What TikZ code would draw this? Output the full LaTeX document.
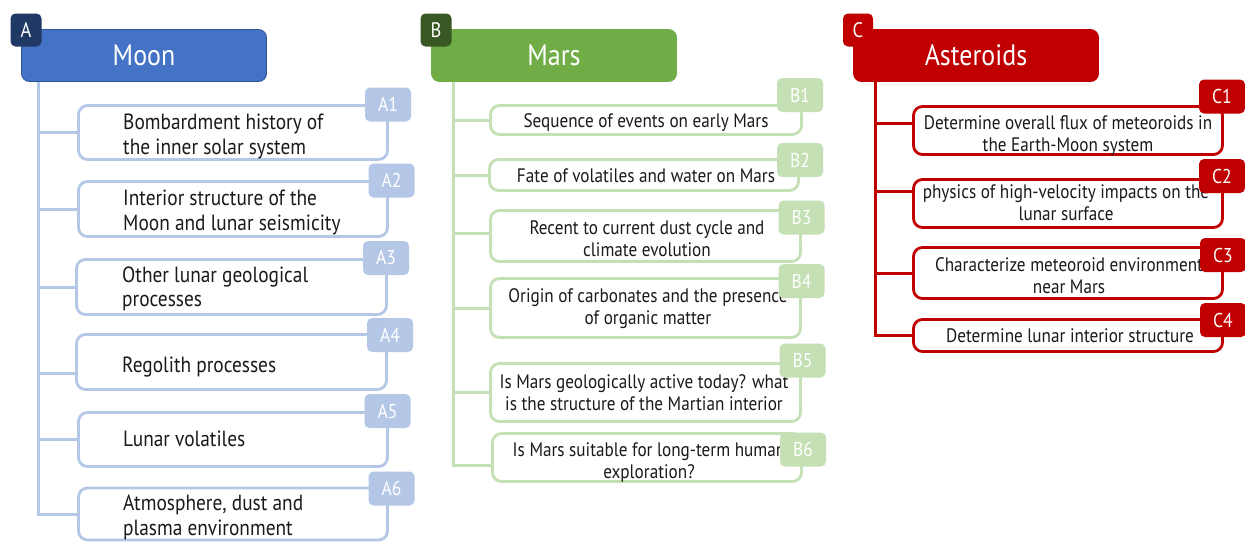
\documentclass[tikz,border=0pt]{standalone}
\usepackage{fontspec}
\setmainfont{PT Sans}[FakeStretch=0.88]
\definecolor{aDark}{HTML}{203864}
\definecolor{aMain}{HTML}{4472C4}
\definecolor{aEdge}{HTML}{2F5597}
\definecolor{aLight}{HTML}{B4C7E7}
\definecolor{bDark}{HTML}{385723}
\definecolor{bMain}{HTML}{70AD47}
\definecolor{bLight}{HTML}{C5E0B4}
\definecolor{cMain}{HTML}{C00000}
\definecolor{txt}{HTML}{1A1A1A}
\begin{document}
\begin{tikzpicture}[x=1pt,y=-1pt,
  hdr/.style={rounded corners=8pt, minimum width=245pt, minimum height=52pt, inner sep=0pt, text=white, font=\fontsize{29.5}{31}\selectfont, line width=0.8pt},
  letter/.style={rounded corners=5pt, minimum width=31pt, minimum height=33pt, inner sep=0pt, text=white, font=\fontsize{21}{22}\selectfont},
  item/.style={rounded corners=9pt, line width=2.8pt, fill=white, inner sep=0pt},
  tagbox/.style={rounded corners=5pt, minimum width=46pt, minimum height=34pt, inner sep=0pt, text=white, font=\fontsize{20}{21}\selectfont},
  atxt/.style={font=\fontsize{22}{24.5}\selectfont, align=left, inner sep=0pt, text=txt, anchor=base west},
  btxt/.style={font=\fontsize{19.5}{22}\selectfont, align=center, inner sep=0pt, text=txt, anchor=base},
  ctxt/.style={font=\fontsize{19.5}{22}\selectfont, align=center, inner sep=0pt, text=txt, anchor=base},
  aline/.style={draw=aLight, line width=3pt},
  bline/.style={draw=bLight, line width=3pt},
  cline/.style={draw=cMain, line width=3pt},
]
\useasboundingbox (0,0) rectangle (1245,542);
\fill[white] (0,0) rectangle (1245,542);

% ---------------- Panel A ----------------
\node[hdr, fill=aMain, draw=aEdge] (hA) at (144,55.5) {Moon};
\node[letter, fill=aDark] (lA) at (26,30) {A};
\node[item, draw=aLight, minimum width=309pt, minimum height=54pt] (a1) at (233,132.5) {};
\node[item, draw=aLight, minimum width=309pt, minimum height=55pt] (a2) at (233,209) {};
\node[item, draw=aLight, minimum width=310pt, minimum height=55pt] (a3) at (231.5,287) {};
\node[item, draw=aLight, minimum width=310pt, minimum height=55pt] (a4) at (231.5,362) {};
\node[item, draw=aLight, minimum width=309pt, minimum height=54pt] (a5) at (233,439.5) {};
\node[item, draw=aLight, minimum width=309pt, minimum height=52pt] (a6) at (233,514) {};
\coordinate (tA) at (38,0);
\coordinate (a4c) at ([yshift=-11pt]a4.west);
\draw[aline] (hA.south -| tA) |- (a6.west);
\draw[aline] (a1.west -| tA) -- (a1.west);
\draw[aline] (a2.west -| tA) -- (a2.west);
\draw[aline] (a3.west -| tA) -- (a3.west);
\draw[aline] (a4c -| tA) -- (a4c);
\draw[aline] (a5.west -| tA) -- (a5.west);
\node[atxt] (a1t) at (123,154) {Bombardment history of\\the inner solar system};
\node[atxt] (a2t) at (123,230) {Interior structure of the\\Moon and lunar seismicity};
\node[atxt] (a3t) at (122,306.7) {Other lunar geological\\processes};
\node[atxt] (a4t) at (122,372) {Regolith processes};
\node[atxt] (a5t) at (123,446.7) {Lunar volatiles};
\node[atxt] (a6t) at (123,535) {Atmosphere, dust and\\plasma environment};
\node[tagbox, fill=aLight] (a1g) at (388,104.5) {A1};
\node[tagbox, fill=aLight] (a2g) at (391.5,180.5) {A2};
\node[tagbox, fill=aLight] (a3g) at (386,258) {A3};
\node[tagbox, fill=aLight] (a4g) at (390,335) {A4};
\node[tagbox, fill=aLight] (a5g) at (387.5,411) {A5};
\node[tagbox, fill=aLight] (a6g) at (391.5,488.5) {A6};

% ---------------- Panel B ----------------
\node[hdr, fill=bMain, draw=bMain] (hB) at (554,55.5) {Mars};
\node[letter, fill=bDark] (lB) at (436,30) {B};
\node[item, draw=bLight, minimum width=311pt, minimum height=29pt] (b1) at (646,120) {};
\node[item, draw=bLight, minimum width=309pt, minimum height=31pt] (b2) at (644,175) {};
\node[item, draw=bLight, minimum width=310pt, minimum height=51pt] (b3) at (645.5,236) {};
\node[item, draw=bLight, minimum width=310pt, minimum height=59pt] (b4) at (645.5,308) {};
\node[item, draw=bLight, minimum width=310pt, minimum height=58pt] (b5) at (645.5,392.5) {};
\node[item, draw=bLight, minimum width=309pt, minimum height=48pt] (b6) at (647,457.5) {};
\coordinate (tB) at (453,0);
\coordinate (b3c) at ([yshift=3pt]b3.west);
\coordinate (b6c) at ([yshift=-7.5pt]b6.west);
\draw[bline] (hB.south -| tB) |- (b6c);
\draw[bline] (b1.west -| tB) -- (b1.west);
\draw[bline] (b2.west -| tB) -- (b2.west);
\draw[bline] (b3c -| tB) -- (b3c);
\draw[bline] (b4.west -| tB) -- (b4.west);
\draw[bline] (b5.west -| tB) -- (b5.west);
\node[btxt] (b1t) at (646,127.7) {Sequence of events on early Mars};
\node[btxt] (b2t) at (646,182.7) {Fate of volatiles and water on Mars};
\node[btxt] (b3t) at (647,256.7) {Recent to current dust cycle and\\climate evolution};
\node[btxt] (b4t) at (648,324.3) {Origin of carbonates and the presence\\of organic matter};
\node[btxt] (b5t) at (644,410) {Is Mars geologically active today? what\\is the structure of the Martian interior};
\node[btxt] (b6t) at (649,478.3) {Is Mars suitable for long-term human\\exploration?};
\node[tagbox, fill=bLight] (b1g) at (800,95) {B1};
\node[tagbox, fill=bLight] (b2g) at (800,160) {B2};
\node[tagbox, fill=bLight] (b3g) at (801.5,217.5) {B3};
\node[tagbox, fill=bLight] (b4g) at (801.5,281) {B4};
\node[tagbox, fill=bLight] (b5g) at (802.5,360.5) {B5};
\node[tagbox, fill=bLight] (b6g) at (803,449.5) {B6};

% ---------------- Panel C ----------------
\node[hdr, fill=cMain, draw=cMain] (hC) at (976,55.5) {Asteroids};
\node[letter, fill=cMain, minimum width=30pt] (lC) at (858,30) {C};
\node[item, draw=cMain, minimum width=309pt, minimum height=48pt] (c1) at (1068,130.5) {};
\node[item, draw=cMain, minimum width=309pt, minimum height=48pt] (c2) at (1068,203.5) {};
\node[item, draw=cMain, minimum width=309pt, minimum height=51pt] (c3) at (1068,273) {};
\node[item, draw=cMain, minimum width=309pt, minimum height=32pt] (c4) at (1068,335.5) {};
\coordinate (tC) at (875,0);
\coordinate (c1c) at ([yshift=7.5pt]c1.west);
\coordinate (c2c) at ([yshift=12.5pt]c2.west);
\draw[cline] (hC.south -| tC) |- (c4.west);
\draw[cline] (c1c -| tC) -- (c1c);
\draw[cline] (c2c -| tC) -- (c2c);
\draw[cline] (c3.west -| tC) -- (c3.west);
\node[ctxt] (c1t) at (1068,151.7) {Determine overall flux of meteoroids in\\the Earth-Moon system};
\node[ctxt] (c2t) at (1066,220) {physics of high-velocity impacts on the\\lunar surface};
\node[ctxt] (c3t) at (1069,293.3) {Characterize meteoroid environment\\near Mars};
\node[ctxt] (c4t) at (1070,342.7) {Determine lunar interior structure};
\node[tagbox, fill=cMain] (c1g) at (1222,96.5) {C1};
\node[tagbox, fill=cMain] (c2g) at (1222,176) {C2};
\node[tagbox, fill=cMain] (c3g) at (1223,255) {C3};
\node[tagbox, fill=cMain] (c4g) at (1223,320) {C4};
\end{tikzpicture}
\end{document}
